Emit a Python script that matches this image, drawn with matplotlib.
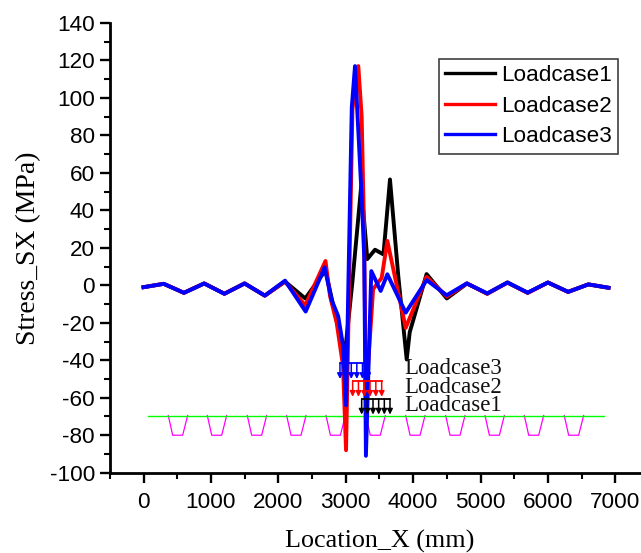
import matplotlib
matplotlib.use("Agg")
import matplotlib.pyplot as plt
from matplotlib.ticker import MultipleLocator

SERIF = "Liberation Serif"
SANS = "Liberation Sans"
plt.rcParams["axes.unicode_minus"] = False

x_lc1 = [0,300,600,900,1200,1500,1800,2100,2400,2700,2860,2990,3100,3230,3300,3320,3435,3560,3610,3657,3780,3905,3950,4200,4500,4800,5100,5400,5700,6000,6300,6600,6900]
y_lc1 = [-1,0.8,-4,1,-4.5,1,-5.5,2,-7,8,-18,-36,2,53,23,14,19,16.5,37,56.5,5,-39.6,-25,6,-7,1,-4.5,1.5,-4,1.5,-3.5,0.5,-1.3]
x_lc2 = [0,300,600,900,1200,1500,1800,2100,2400,2700,2767,2866,2960,3005,3100,3187,3237,3272,3300,3407,3534,3618,3890,4200,4500,4800,5100,5400,5700,6000,6300,6600,6900]
y_lc2 = [-1,0.8,-4,1,-4.5,1,-5.5,2,-10.7,13,-5.7,-20,-43,-88,94,117,90,30,-60,-2,4,23.7,-22.7,4.5,-6,1,-4.5,1.5,-4,1.5,-3.5,0.5,-1.3]
x_lc3 = [0,300,600,900,1200,1500,1800,2100,2406,2688,2790,2888,2960,3005,3090,3138,3240,3275,3300,3380,3519,3618,3890,4201,4498,4795,5100,5400,5700,6000,6300,6600,6900]
y_lc3 = [-1,0.8,-4,1,-4.5,1,-5.5,2.5,-14,9.6,-7.7,-16.4,-32,-64,95,117,45,15,-91,7.6,-3,5.9,-14.6,2.8,-5.3,1,-4.3,1.5,-3.9,1.5,-3.5,0.5,-1.3]

ground_x = [70, 6830]
ground_y = [-69.5, -69.5]
trap_starts = [368,947,1540,2124,2708,3300,3890,4483,5067,5650,6243]
trap_x_offsets = [0,65,213,287]
trap_y = [-69.5,-80,-80,-69.5]

load_lc3_x = [2915,2999,3083,3165,3249,3332]
load_lc2_x = [3103,3189,3275,3361,3447,3534]
load_lc1_x = [3237,3321,3405,3489,3573,3657]
load_tops = [-41.7,-51,-60.7]
load_tips = [-50,-59.5,-69]
load_names = ["Loadcase3","Loadcase2","Loadcase1"]
load_label_y = [-44.6,-54.6,-64.2]
load_colors = ["#0000ff","#ff0000","#000000"]

x_ticks = [0,1000,2000,3000,4000,5000,6000,7000]
y_ticks = list(range(-100,141,20))

W,H = 641,553
fig = plt.figure(figsize=(W/100,H/100),dpi=100)
left,right,bottom,top = 109.8,641,472.7,23
ax = fig.add_axes([left/W,1-bottom/H,(right-left)/W,(bottom-top)/H])
ax.set_xlim(-500,(641-143.5)/67.4*1000)
ax.set_ylim(-100,140)

for st in trap_starts:
    ax.plot([st+o for o in trap_x_offsets],trap_y,color="#ff00ff",lw=0.9,zorder=1)
ax.plot(ground_x,ground_y,color="#00ff00",lw=1.0,zorder=1.5)

l1,=ax.plot(x_lc1,y_lc1,color="k",lw=2.8,label="Loadcase1",zorder=3,solid_joinstyle="round")
l2,=ax.plot(x_lc2,y_lc2,color="#ff0000",lw=2.8,label="Loadcase2",zorder=4,solid_joinstyle="round")
l3,=ax.plot(x_lc3,y_lc3,color="#0000ff",lw=2.8,label="Loadcase3",zorder=5,solid_joinstyle="round")

for xs,t,tip,name,ly,c in zip([load_lc3_x,load_lc2_x,load_lc1_x],load_tops,load_tips,load_names,load_label_y,load_colors):
    ax.plot([xs[0],xs[-1]],[t,t],color=c,lw=1.3,zorder=6)
    for xv in xs:
        ax.annotate("",xy=(xv,tip),xytext=(xv,t),zorder=6,
                    arrowprops=dict(arrowstyle="-|>",color=c,lw=1.1,mutation_scale=8,shrinkA=0,shrinkB=0))
    ax.text(3875,ly,name,family=SERIF,fontsize=16.4,color="#111111",va="center",ha="left",zorder=7)

ax.spines["top"].set_visible(False)
ax.spines["right"].set_visible(False)
ax.spines["left"].set_linewidth(2.0)
ax.spines["bottom"].set_linewidth(2.0)
ax.set_xticks(x_ticks)
ax.set_yticks(y_ticks)
ax.xaxis.set_minor_locator(MultipleLocator(500))
ax.yaxis.set_minor_locator(MultipleLocator(10))
ax.tick_params(which="major",length=7.2,width=1.7,labelsize=16.2,pad=3.5)
ax.tick_params(which="minor",length=4.2,width=1.5)
ax.tick_params(axis="x",which="major",pad=7)
for t in ax.get_xticklabels()+ax.get_yticklabels():
    t.set_family(SANS)
ax.set_xlabel("Location_X (mm)",family=SERIF,fontsize=18.8,labelpad=12)
ax.xaxis.label.set_x((379.5-left)/(right-left))
ax.set_ylabel("Stress_SX (MPa)",family=SERIF,fontsize=20,labelpad=6)

leg = ax.legend(handles=[l1,l2,l3],loc="upper left",bbox_to_anchor=((439-left)/(right-left),1-(59-top)/(bottom-top)),
                prop={"family":SANS,"size":16.2},frameon=True,fancybox=False,edgecolor="#404040",framealpha=1,
                borderaxespad=0,borderpad=0.28,labelspacing=0.42,handlelength=2.2,handletextpad=0.27)
leg.get_frame().set_linewidth(1.2)
leg.set_zorder(10)
for h in leg.get_lines():
    h.set_linewidth(2.4)
fig.savefig("out.png",dpi=100)
